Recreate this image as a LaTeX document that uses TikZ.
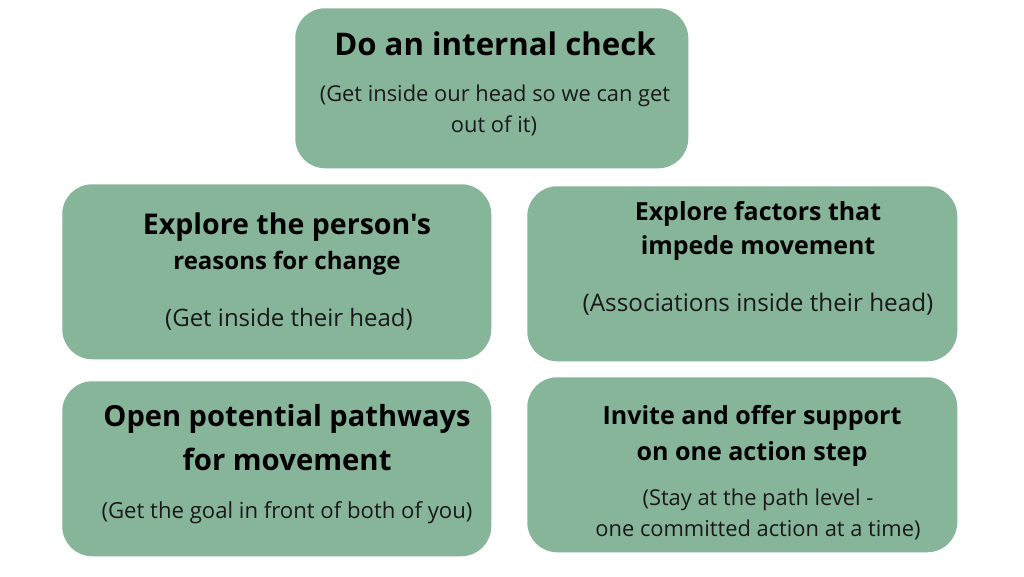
\documentclass[tikz,border=0pt]{standalone}
\usepackage{fontspec}
\setmainfont{Open Sans}[Ligatures=TeXOff]
\definecolor{boxgreen}{HTML}{87B59A}
\begin{document}
\begin{tikzpicture}[x=0.75pt,y=-0.75pt,
  card/.style={fill=boxgreen, draw=none, rounded corners=22.5pt, anchor=north west, inner sep=0pt},
  ttl/.style={font=\bfseries\fontsize{#1}{#1}\selectfont, text=black, inner sep=0pt, yshift=-2pt},
  sub/.style={font=\fontsize{#1}{#1}\selectfont, text=black!90, inner sep=0pt, yshift=-2pt}]
\useasboundingbox[fill=white] (0,0) rectangle (1024,576);
% boxes
\node[card, minimum width=393*0.75pt, minimum height=160*0.75pt] (b1) at (295,8) {};
\node[card, minimum width=429*0.75pt, minimum height=175*0.75pt] (b2) at (62,184) {};
\node[card, minimum width=430*0.75pt, minimum height=175*0.75pt] (b3) at (527,186) {};
\node[card, minimum width=429*0.75pt, minimum height=175*0.75pt] (b4) at (62,381) {};
\node[card, minimum width=430*0.75pt, minimum height=175*0.75pt] (b5) at (527,377) {};
% box 1
\node[ttl=23.4pt] (t1) at (495,41) {Do an internal check};
\node[sub=16.4pt] (s1a) at (495,93) {(Get inside our head so we can get};
\node[sub=16.4pt] (s1b) at (494,123) {out of it)};
% box 2
\node[ttl=21.4pt] (t2a) at (287,224) {Explore the person's};
\node[ttl=18pt] (t2b) at (287,261) {reasons for change};
\node[sub=18pt] (s2) at (289,317) {(Get inside their head)};
% box 3
\node[ttl=18.7pt] (t3a) at (758,211) {Explore factors that};
\node[ttl=18.7pt] (t3b) at (758,245) {impede movement};
\node[sub=18.2pt] (s3) at (758,302) {(Associations inside their head)};
% box 4
\node[ttl=21.8pt] (t4a) at (287,416) {Open potential pathways};
\node[ttl=22pt] (t4b) at (287,457) {for movement};
\node[sub=16.6pt] (s4) at (287,510) {(Get the goal in front of both of you)};
% box 5
\node[ttl=18.8pt] (t5a) at (752,415) {Invite and offer support};
\node[ttl=18.8pt] (t5b) at (752,451) {on one action step};
\node[sub=16.4pt] (s5a) at (758,497) {(Stay at the path level -};
\node[sub=16.4pt] (s5b) at (758,527) {one committed action at a time)};
\end{tikzpicture}
\end{document}
